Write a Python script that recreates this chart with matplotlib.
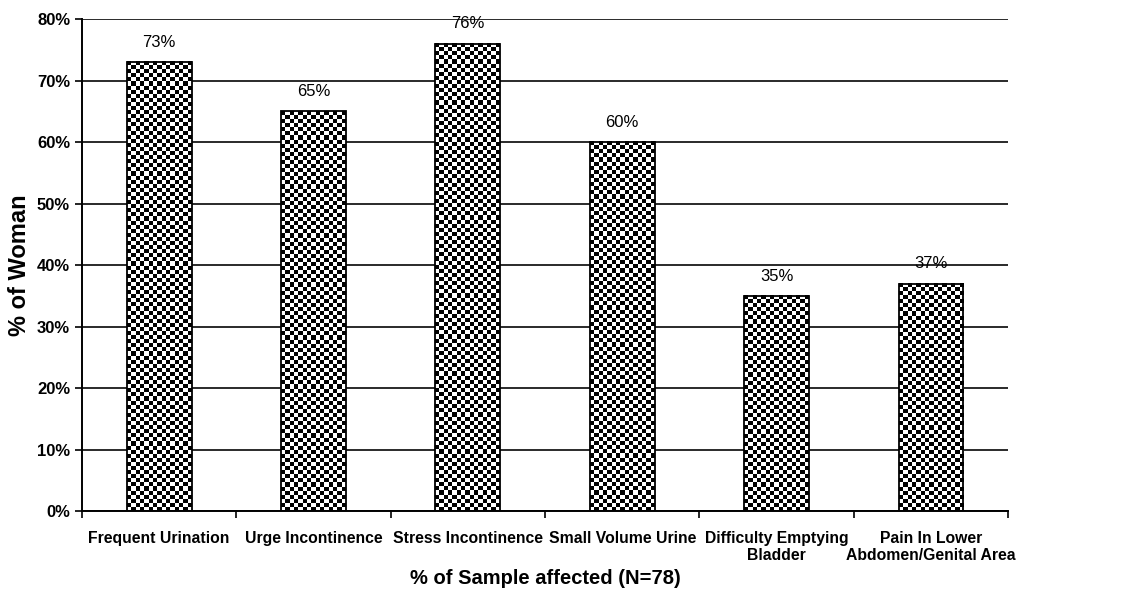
import matplotlib
matplotlib.use("Agg")
import matplotlib.pyplot as plt
import numpy as np

# data
categories = ["Frequent Urination", "Urge Incontinence", "Stress Incontinence",
              "Small Volume Urine", "Difficulty Emptying\nBladder",
              "Pain In Lower\nAbdomen/Genital Area"]
values = [73, 65, 76, 60, 35, 37]

plt.rcParams["font.family"] = ["Liberation Sans", "DejaVu Sans"]

fig = plt.figure(figsize=(11.35, 5.95), dpi=100)
ax = fig.add_axes([0.0722, 0.141, 0.816, 0.827])

xpos = np.arange(len(categories))
width = 0.42
bars = ax.bar(xpos, values, width=width, facecolor="none", edgecolor="black",
              linewidth=1.3, zorder=3)

ax.set_xlim(-0.5, len(categories) - 0.5)
ax.set_ylim(0, 80)
fig.canvas.draw()

# checkerboard fill, roughly 4 px cells
trans = ax.transData
for b in bars:
    x0, y0 = b.get_x(), b.get_y()
    x1, y1 = x0 + b.get_width(), y0 + b.get_height()
    p0 = trans.transform((x0, y0))
    p1 = trans.transform((x1, y1))
    nx = max(1, int(round((p1[0] - p0[0]) / 4.2)))
    ny = max(1, int(round((p1[1] - p0[1]) / 4.1)))
    board = (np.add.outer(np.arange(ny), np.arange(nx)) % 2).astype(float)
    ax.imshow(board, cmap="gray", extent=(x0, x1, y0, y1), aspect="auto",
              interpolation="nearest", zorder=2, vmin=0, vmax=1)
ax.set_xlim(-0.5, len(categories) - 0.5)
ax.set_ylim(0, 80)

for x, v in zip(xpos, values):
    ax.text(x, v + 2.0, f"{v}%", ha="center", va="bottom", fontsize=12)

ax.set_yticks(range(0, 81, 10))
ax.set_yticklabels([f"{t}%" for t in range(0, 81, 10)], fontsize=12, fontweight="bold")
ax.yaxis.grid(True, color="#2a2a2a", linewidth=1.4, zorder=0)
ax.set_axisbelow(True)

ax.set_xticks(xpos)
ax.set_xticklabels(categories, fontsize=11.3, fontweight="bold")
ax.set_xticks(np.arange(-0.5, len(categories), 1), minor=True)
ax.tick_params(axis="x", which="major", length=0, pad=14)
ax.tick_params(axis="x", which="minor", length=5, width=1.2, direction="out")
ax.tick_params(axis="y", length=5, width=1.2, direction="out")

for s in ["top", "right"]:
    ax.spines[s].set_visible(False)
ax.spines["left"].set_linewidth(1.4)
ax.spines["bottom"].set_linewidth(1.4)

ax.set_ylabel("% of Woman", fontsize=17, fontweight="bold", va="center")
ax.yaxis.set_label_coords(-0.067, 0.5)
ax.set_xlabel("% of Sample affected (N=78)", fontsize=14.5, fontweight="bold", va="center")
ax.xaxis.set_label_coords(0.5, -0.136)

fig.savefig("out.png", dpi=100)
